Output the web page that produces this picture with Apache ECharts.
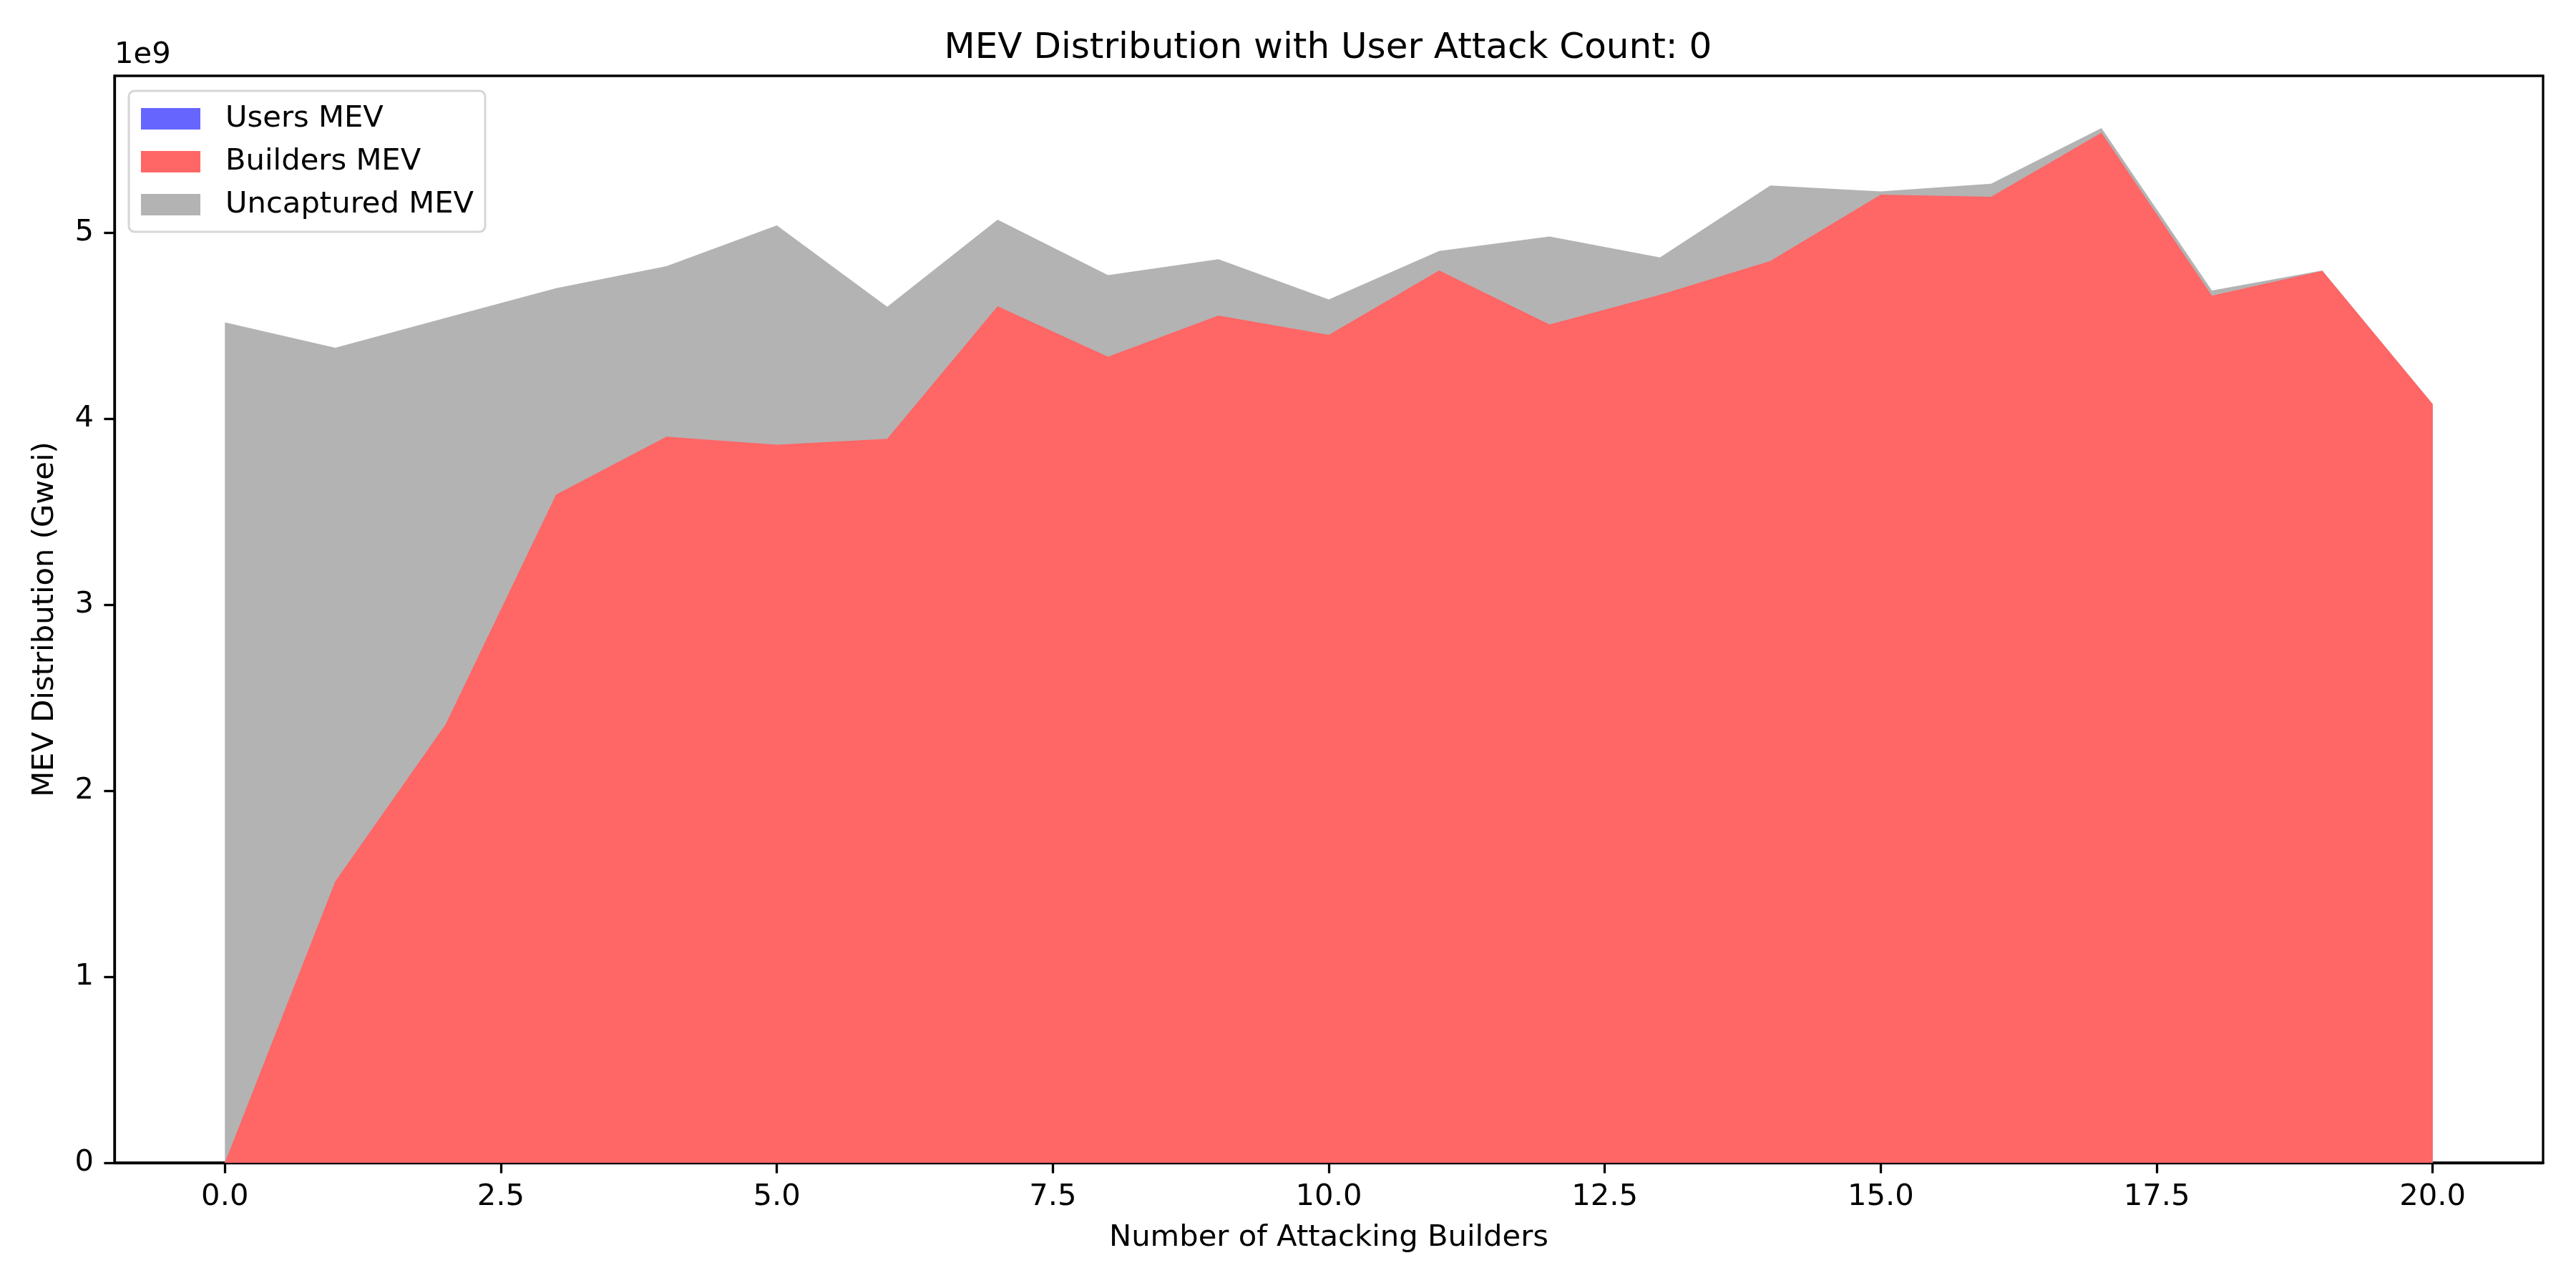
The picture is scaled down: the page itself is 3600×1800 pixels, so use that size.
<!DOCTYPE html>
<html>
<head>
<meta charset="utf-8">
<script src="https://cdn.jsdelivr.net/npm/echarts@6/dist/echarts.min.js"></script>
<style>
html,body{margin:0;padding:0;background:#fff;}
#chart{width:3600px;height:1800px;}
</style>
</head>
<body>
<div id="chart"></div>
<script>
// Number of attacking builders (x values)
const attackers = [0,1,2,3,4,5,6,7,8,9,10,11,12,13,14,15,16,17,18,19,20];
// MEV values in Gwei
const usersMEV = [0,0,0,0,0,0,0,0,0,0,0,0,0,0,0,0,0,0,0,0,0];
const buildersMEV = [0, 1.512e9, 2.357e9, 3.591e9, 3.903e9, 3.859e9, 3.891e9, 4.604e9, 4.332e9, 4.554e9, 4.450e9,
                     4.796e9, 4.506e9, 4.665e9, 4.847e9, 5.204e9, 5.192e9, 5.536e9, 4.660e9, 4.794e9, 4.078e9];
const uncapturedMEV = [4.517e9, 2.869e9, 2.184e9, 1.110e9, 0.916e9, 1.179e9, 0.710e9, 0.465e9, 0.439e9, 0.302e9, 0.190e9,
                       0.105e9, 0.473e9, 0.201e9, 0.406e9, 0.017e9, 0.070e9, 0.025e9, 0.028e9, 0.002e9, 0.000e9];
const xTicks = [0, 2.5, 5, 7.5, 10, 12.5, 15, 17.5, 20];
const yTicks = [0, 1e9, 2e9, 3e9, 4e9, 5e9];
const seriesNames = ['Users MEV', 'Builders MEV', 'Uncaptured MEV'];
const seriesColors = ['#6666ff', '#ff6666', '#b3b3b3'];

const FONT = 'DejaVu Sans';
const chart = echarts.init(document.getElementById('chart'), null, {renderer: 'canvas', devicePixelRatio: 1});

// stack manually (value/value axes): cumulative tops of each layer
const layers = [usersMEV, buildersMEV, uncapturedMEV];
const cumulative = [];
layers.forEach((arr, i) => {
  cumulative.push(arr.map((v, j) => v + (i > 0 ? cumulative[i - 1][j] : 0)));
});

chart.setOption({
  animation: false,
  backgroundColor: '#ffffff',
  title: {
    text: 'MEV Distribution with User Attack Count: 0',
    left: 1851, top: 38, textAlign: 'center',
    textStyle: {fontFamily: FONT, fontSize: 50, fontWeight: 'normal', color: '#000'}
  },
  graphic: [{
    type: 'text', left: 160, top: 56,
    style: {text: '1e9', font: '41.7px "DejaVu Sans"', fill: '#000'}
  }],
  legend: {
    data: seriesNames,
    orient: 'vertical',
    left: 180, top: 127,
    icon: 'rect',
    itemWidth: 83, itemHeight: 30, itemGap: 18,
    padding: [18, 16, 17, 17],
    borderColor: '#d6d6d6', borderWidth: 3, borderRadius: 8,
    backgroundColor: '#ffffff',
    textStyle: {fontFamily: FONT, fontSize: 41.7, color: '#000', padding: [0, 0, 0, 30]}
  },
  grid: {
    left: 160, right: 46, top: 106, bottom: 175,
    show: true, borderColor: '#000', borderWidth: 3.3
  },
  xAxis: {
    type: 'value', min: -1, max: 21,
    name: 'Number of Attacking Builders', nameLocation: 'middle', nameGap: 84,
    nameTextStyle: {fontFamily: FONT, fontSize: 41.7, color: '#000'},
    axisLine: {show: true, onZero: false, lineStyle: {color: '#000', width: 3.3}},
    axisTick: {show: true, length: 14.6, lineStyle: {color: '#000', width: 3.3}, customValues: xTicks},
    axisLabel: {fontFamily: FONT, fontSize: 41.7, color: '#000', margin: 27, customValues: xTicks,
                formatter: v => Number(v).toFixed(1)},
    splitLine: {show: false}
  },
  yAxis: {
    type: 'value', min: 0, max: 5.842e9,
    name: 'MEV Distribution (Gwei)', nameLocation: 'middle', nameGap: 76,
    nameTextStyle: {fontFamily: FONT, fontSize: 41.7, color: '#000'},
    axisLine: {show: true, onZero: false, lineStyle: {color: '#000', width: 3.3}},
    axisTick: {show: true, length: 14.6, lineStyle: {color: '#000', width: 3.3}, customValues: yTicks},
    axisLabel: {fontFamily: FONT, fontSize: 41.7, color: '#000', margin: 29, customValues: yTicks,
                formatter: v => String(Math.round(v / 1e9))},
    splitLine: {show: false}
  },
  series: seriesNames.map((name, i) => ({
    name: name,
    type: 'line',
    data: attackers.map((x, j) => [x, cumulative[i][j]]),
    z: 10 - i,
    showSymbol: false,
    symbol: 'none',
    color: seriesColors[i],
    itemStyle: {color: seriesColors[i]},
    lineStyle: {width: 0, opacity: 0},
    areaStyle: {color: seriesColors[i], opacity: 1, origin: 'start'},
    emphasis: {disabled: true}
  }))
});
</script>
</body>
</html>
